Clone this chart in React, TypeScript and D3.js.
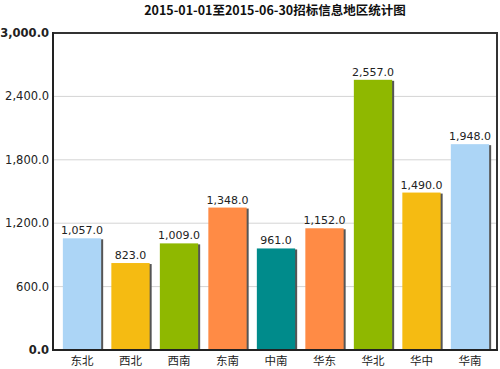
import * as d3 from 'd3';
import React from 'react';

const title = '2015-01-01至2015-06-30招标信息地区统计图';
const regions = ['东北', '西北', '西南', '东南', '中南', '华东', '华北', '华中', '华南'];
const counts = [1057, 823, 1009, 1348, 961, 1152, 2557, 1490, 1948];
const barColors = ['#acd5f6', '#f5bb12', '#8fb800', '#ff8b45', '#008b8b', '#ff8b45', '#8fb800', '#f5bb12', '#acd5f6'];
const yTicks = [0, 600, 1200, 1800, 2400, 3000];

const W = 500, H = 369;
const margin = { top: 33, right: 2, bottom: 19, left: 53 };

const App = () => {
    const width = W - margin.left - margin.right;
    const height = H - margin.top - margin.bottom;

    const x = d3.scaleBand<string>()
        .domain(regions)
        .range([5, width - 4])
        .paddingInner(0.21)
        .paddingOuter(0.1);

    const y = d3.scaleLinear()
        .domain([0, 3000])
        .range([height, 0]);

    const fmt = d3.format(',.1f');
    const font = '"DejaVu Sans", Verdana, sans-serif';

    return <svg width={W} height={H} style={{ position: 'absolute', left: 0, top: 0 }} fontFamily={font}>
        <rect width={W} height={H} fill="#fff" />
        <text x={275} y={15} textAnchor="middle" fontSize={12.5} fontWeight="bold" fill="#111"
            fontFamily='"Noto Sans CJK SC", sans-serif'>{title}</text>
        <g transform={`translate(${margin.left},${margin.top})`}>
            {yTicks.filter(t => t > 0 && t < 3000).map(t =>
                <line key={t} x1={0} x2={width} y1={y(t)} y2={y(t)} stroke="#d4d4d4" strokeWidth={1} />
            )}
            <line x1={0} x2={width} y1={0} y2={0} stroke="#333" strokeWidth={2} />
            <line x1={width - 1} x2={width - 1} y1={0} y2={height} stroke="#333" strokeWidth={2} />
            {regions.map((r, i) => {
                const bx = x(r) as number;
                const by = y(counts[i]);
                return <g key={r}>
                    <rect x={bx + 2} y={by + 1} width={x.bandwidth()} height={height - by - 1} fill="#555" />
                    <rect x={bx} y={by} width={x.bandwidth()} height={height - by} fill={barColors[i]} />
                    <text x={bx + x.bandwidth() / 2} y={by - 4} textAnchor="middle" fontSize={11} fill="#222">{fmt(counts[i])}</text>
                    <text x={bx + x.bandwidth() / 2} y={height + 15} textAnchor="middle" fontSize={11.5} fill="#222"
                        fontFamily='"Noto Sans CJK SC", sans-serif'>{r}</text>
                </g>;
            })}
            <line x1={0} x2={0} y1={-1} y2={height + 1} stroke="#222" strokeWidth={2} />
            <line x1={0} x2={width} y1={height} y2={height} stroke="#222" strokeWidth={2} />
            {yTicks.map(t =>
                <text key={t} x={-4} y={y(t) + 4} textAnchor="end" fontSize={11.5}
                    fontWeight={t === 0 || t === 3000 ? 'bold' : 'normal'} fill="#222">{fmt(t)}</text>
            )}
        </g>
    </svg>;
}
export default App;
